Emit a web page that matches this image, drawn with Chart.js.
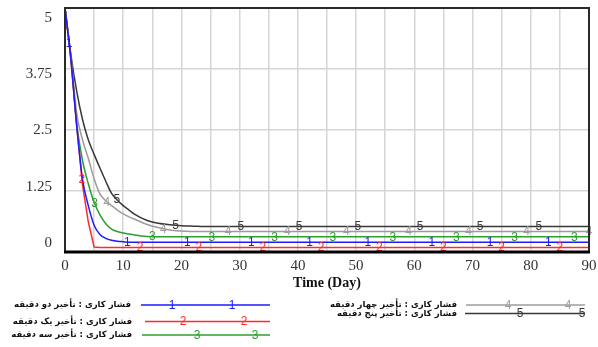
<!DOCTYPE html>
<html><head><meta charset="utf-8">
<script src="https://cdn.jsdelivr.net/npm/chart.js@4/dist/chart.umd.min.js"></script>
<style>html,body{margin:0;padding:0;background:#fff}#wrap{width:598px;height:347px;position:relative}</style>
</head><body><div id="wrap"><canvas id="c" width="598" height="347"></canvas></div>
<script>
// ---- data ----
const days   = [0,1,2,3,4,5,6,7,8,9,10,11,12,14,16,18,20,22,25,30,90];
const delay2min = [5,3.97,2.6,1.5,0.95,0.55,0.36,0.28,0.24,0.22,0.21,0.2,0.2,0.2,0.2,0.2,0.2,0.2,0.2,0.2,0.2];
const delay1min = [5,3.95,2.6,1.38,0.62,0.1,0.09,0.09,0.09,0.09,0.09,0.09,0.09,0.09,0.09,0.09,0.09,0.09,0.09,0.09,0.09];
const delay3min = [5,4.0,2.65,1.88,1.4,1.02,0.76,0.58,0.47,0.42,0.39,0.37,0.35,0.32,0.31,0.31,0.31,0.31,0.31,0.31,0.31];
const delay4min = [5,4.02,2.85,2.3,1.92,1.5,1.19,1.05,0.95,0.86,0.78,0.72,0.67,0.57,0.5,0.45,0.43,0.42,0.42,0.42,0.42];
const delay5min = [5,4.05,3.3,2.72,2.3,2.0,1.72,1.45,1.2,1.06,0.95,0.86,0.77,0.65,0.59,0.56,0.54,0.53,0.52,0.52,0.52];
const seriesNames = [
  "فشار کاری : تأخیر دو دقیقه",
  "فشار کاری : تأخیر یک دقیقه",
  "فشار کاری : تأخیر سه دقیقه",
  "فشار کاری : تأخیر چهار دقیقه",
  "فشار کاری : تأخیر پنج دقیقه"
];
const seriesTags = ["1","2","3","4","5"];
// days at which each series' number tag is printed on its curve
const tagDays1 = [0.7,10.7,21,32,42,52,63,73,83];
const tagDays2 = [2.9,12.9,23,34,44,54,65,75,85];
const tagDays3 = [5.1,15,25.2,36,46,56.3,67.2,77.2,87.5];
const tagDays4 = [7.2,16.9,28,38.2,48.3,59,69.3,79.3,90];
const tagDays5 = [8.9,19,30.2,40.2,50.3,61,71.3,81.4];
const xTickLabels = [0,10,20,30,40,50,60,70,80,90];
const yTickLabels = [0,1.25,2.5,3.75,5];
const xTitle = "Time (Day)";

// ---- styles ----
const colors = ['#1c1cff','#ff2b2b','#2e9e2e','#9c9c9c','#383838'];
const valueSets = [delay2min,delay1min,delay3min,delay4min,delay5min];
const tagSets = [tagDays1,tagDays2,tagDays3,tagDays4,tagDays5];

const datasets = valueSets.map((vals,i)=>({
  label: seriesNames[i],
  data: days.map((d,j)=>({x:d,y:vals[j]})),
  borderColor: colors[i],
  borderWidth: 1.5,
  pointRadius: 0,
  fill: false,
  cubicInterpolationMode: i===1 ? 'default' : 'monotone',
  tension: 0
}));

function interp(vals, t){
  for(let j=0;j<days.length-1;j++){
    if(t>=days[j] && t<=days[j+1]){
      const f=(t-days[j])/(days[j+1]-days[j]);
      return vals[j]+f*(vals[j+1]-vals[j]);
    }
  }
  return vals[vals.length-1];
}

const decor = {
  id:'decor',
  afterDatasetsDraw(chart){
    const {ctx, chartArea:a, scales:{x,y}} = chart;
    ctx.save();
    ctx.font = '12px "Liberation Sans", Arial, sans-serif';
    ctx.textAlign='center'; ctx.textBaseline='middle';
    tagSets.forEach((tags,i)=>{
      ctx.fillStyle = colors[i];
      tags.forEach(t=>{
        ctx.fillText(seriesTags[i], x.getPixelForValue(t), y.getPixelForValue(interp(valueSets[i],t))+0.5);
      });
    });
    ctx.restore();
    ctx.save();
    ctx.strokeStyle='#2a2a2a'; ctx.lineWidth=2;
    ctx.strokeRect(a.left, a.top, a.right-a.left, a.bottom-a.top);
    ctx.strokeStyle='#000'; ctx.lineWidth=3;
    ctx.beginPath(); ctx.moveTo(a.left-1,a.bottom); ctx.lineTo(a.right+1,a.bottom); ctx.stroke();
    ctx.restore();
  },
  afterDraw(chart){
    const ctx = chart.ctx;
    const rows = [
      {s:0, tx:131, x1:141, x2:270, y:305, m:[172,232]},
      {s:1, tx:132, x1:145, x2:270, y:321.5, m:[183,244]},
      {s:2, tx:132, x1:142, x2:270, y:335, m:[197,255]},
      {s:3, tx:457, x1:466, x2:585, y:305, m:[508,568]},
      {s:4, tx:457, x1:465, x2:585, y:313.5, m:[520,582]}
    ];
    ctx.save();
    rows.forEach(r=>{
      ctx.font='bold 8.5px "DejaVu Sans", sans-serif';
      ctx.fillStyle='#111'; ctx.textAlign='right'; ctx.textBaseline='middle';
      ctx.direction='rtl';
      ctx.fillText(seriesNames[r.s], r.tx, r.y);
      ctx.direction='ltr';
      ctx.strokeStyle=colors[r.s]; ctx.lineWidth=1.5;
      ctx.beginPath(); ctx.moveTo(r.x1,r.y); ctx.lineTo(r.x2,r.y); ctx.stroke();
      ctx.font='12px "Liberation Sans", Arial, sans-serif';
      ctx.fillStyle=colors[r.s]; ctx.textAlign='center';
      r.m.forEach(mx=>ctx.fillText(seriesTags[r.s], mx, r.y+0.5));
    });
    ctx.restore();
  }
};

new Chart(document.getElementById('c'), {
  type:'line',
  data:{datasets},
  options:{
    responsive:false, animation:false, devicePixelRatio:1,
    layout:{padding:{top:8,right:9,bottom:55,left:0}},
    plugins:{legend:{display:false}, tooltip:{enabled:false}},
    scales:{
      x:{type:'linear', min:0, max:90,
        grid:{color:'#d6d6d6', lineWidth:1.5, drawTicks:false},
        border:{display:false},
        ticks:{stepSize:5, autoSkip:false, maxRotation:0, padding:5,
          color:'#333', font:{family:'"Liberation Serif", serif', size:15},
          callback:(v)=> xTickLabels.includes(v) ? String(v) : ''},
        title:{display:true, text:xTitle, color:'#111', padding:0,
          font:{family:'"Liberation Serif", serif', size:14, weight:'bold'}},
        afterFit:(s)=>{s.height=40; s.paddingLeft=0; s.paddingRight=0;}
      },
      y:{type:'linear', position:'left', min:0, max:5,
        grid:{color:'#d6d6d6', lineWidth:1.5, drawTicks:false},
        border:{display:false},
        ticks:{display:false, stepSize:1.25},
        afterFit:(s)=>{s.width=0; s.paddingTop=0; s.paddingBottom=0;}
      },
      yl:{type:'linear', position:'left', min:-0.2, max:5.222,
        grid:{display:false, drawTicks:false}, border:{display:false},
        afterBuildTicks:(s)=>{s.ticks = yTickLabels.map(v=>({value:v}));},
        ticks:{padding:13, color:'#333', font:{family:'"Liberation Serif", serif', size:15},
          callback:(v)=>String(v)},
        afterFit:(s)=>{s.width=65; s.paddingTop=0; s.paddingBottom=0;}
      }
    }
  },
  plugins:[decor]
});
</script>
</body></html>
